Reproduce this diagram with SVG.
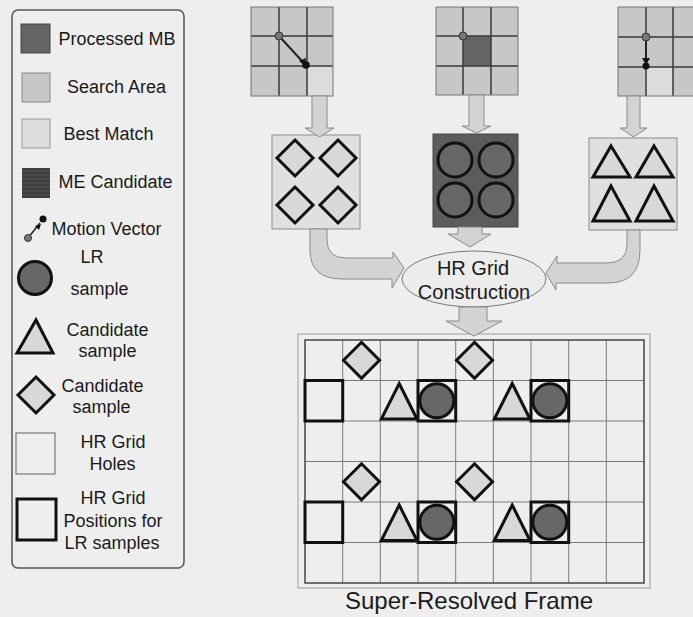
<svg xmlns="http://www.w3.org/2000/svg" width="693" height="617" viewBox="0 0 693 617">
<defs>
<style>
.t{font-family:"Liberation Sans",Arial,sans-serif;font-size:18px;fill:#1a1a1a;text-anchor:middle}
.tb{font-family:"Liberation Sans",Arial,sans-serif;font-size:20px;fill:#1a1a1a;text-anchor:middle}
.tf{font-family:"Liberation Sans",Arial,sans-serif;font-size:24px;fill:#1a1a1a;text-anchor:middle}
.sa{fill:#c7c7c7}
.bm{fill:#dcdcdc}
.pm{fill:#646464}
.gl{stroke:#3a3a3a;stroke-width:1.5;fill:none}
.gb{stroke:#777;stroke-width:1;fill:none}
.dia{fill:#d8d8d8;stroke:#111;stroke-width:3;stroke-linejoin:miter}
.tri{fill:#d8d8d8;stroke:#111;stroke-width:3;stroke-linejoin:miter}
.lr{fill:#676767;stroke:#111;stroke-width:3}
.hold{fill:none;stroke:#111;stroke-width:3}
.arr{fill:#d3d3d3;stroke:#8a8a8a;stroke-width:1}
.cl{stroke:#7a7a7a;stroke-width:1;fill:none}
</style>
</defs>
<rect width="693" height="617" fill="#eeeeee"/>

<g id="legend">
<rect x="12" y="10" width="172" height="558" rx="6" fill="none" stroke="#555" stroke-width="1.5"/>
<g id="leg-processed">
<rect x="21" y="24" width="29" height="29" class="pm" stroke="#444" stroke-width="1"/>
<text class="t" x="117" y="45">Processed MB</text>
</g>
<g id="leg-search">
<rect x="22" y="73" width="28" height="29" class="sa" stroke="#888" stroke-width="1"/>
<text class="t" x="116.5" y="93">Search Area</text>
</g>
<g id="leg-best">
<rect x="22" y="119" width="28" height="29" class="bm" stroke="#999" stroke-width="1"/>
<text class="t" x="108.5" y="140">Best Match</text>
</g>
<g id="leg-me">
<rect x="22" y="168" width="28" height="30" fill="#3e3e3e"/>
<g stroke="#5a5a5a" stroke-width="0.8">
<line x1="22" y1="171" x2="50" y2="171"/><line x1="22" y1="175" x2="50" y2="175"/><line x1="22" y1="179" x2="50" y2="179"/><line x1="22" y1="183" x2="50" y2="183"/><line x1="22" y1="187" x2="50" y2="187"/><line x1="22" y1="191" x2="50" y2="191"/><line x1="22" y1="195" x2="50" y2="195"/>
</g>
<text class="t" x="115.5" y="188">ME Candidate</text>
</g>
<g id="leg-mv">
<line x1="28" y1="238" x2="40" y2="223" stroke="#222" stroke-width="1.5"/>
<circle cx="28" cy="238" r="3.5" fill="#777" stroke="#333" stroke-width="1"/>
<path d="M35,226 L41,224 L39,230 Z" fill="#111"/>
<circle cx="43" cy="219" r="3.5" fill="#111"/>
<text class="t" x="106.5" y="235">Motion Vector</text>
</g>
<g id="leg-lr">
<circle cx="35" cy="278" r="16.5" class="lr"/>
<text class="t" x="92" y="263">LR</text>
<text class="t" x="99.5" y="295">sample</text>
</g>
<g id="leg-tri">
<polygon points="36,320 53,353 17,353" class="tri"/>
<text class="t" x="107.5" y="336">Candidate</text>
<text class="t" x="107.5" y="357">sample</text>
</g>
<g id="leg-dia">
<polygon points="36,377 54,395 36,413 18,395" class="dia"/>
<text class="t" x="102.5" y="392">Candidate</text>
<text class="t" x="101.5" y="413">sample</text>
</g>
<g id="leg-holes">
<rect x="16" y="433" width="39" height="41" fill="#eeeeee" stroke="#777" stroke-width="1.2"/>
<text class="t" x="113" y="448">HR Grid</text>
<text class="t" x="112.5" y="470">Holes</text>
</g>
<g id="leg-pos">
<rect x="17" y="499" width="39" height="41" class="hold"/>
<text class="t" x="113" y="504">HR Grid</text>
<text class="t" x="113" y="527">Positions for</text>
<text class="t" x="112" y="549">LR samples</text>
</g>
</g>

<g id="search-left">
<rect x="251" y="7" width="82" height="89" class="sa"/>
<rect x="307" y="66" width="26" height="30" class="bm"/>
<path d="M279,7V96M307,7V96M251,36H333M251,66H333" class="gl"/>
<rect x="251" y="7" width="82" height="89" class="gb"/>
<line x1="279" y1="36" x2="302" y2="61" stroke="#222" stroke-width="2"/>
<circle cx="279" cy="36" r="4" fill="#777" stroke="#333" stroke-width="1"/>
<path d="M299,61 L306,58 L305,66 Z" fill="#111"/>
<circle cx="306" cy="65" r="3.8" fill="#111"/>
</g>

<g id="search-center">
<rect x="436" y="7" width="82" height="88" class="sa"/>
<rect x="463" y="36" width="28" height="30" class="pm"/>
<path d="M463,7V95M491,7V95M436,36H518M436,66H518" class="gl"/>
<rect x="436" y="7" width="82" height="88" class="gb"/>
<circle cx="463" cy="36" r="4" fill="#777" stroke="#333" stroke-width="1"/>
</g>

<g id="search-right">
<rect x="618" y="7" width="83" height="89" class="sa"/>
<rect x="646" y="67" width="27" height="29" class="bm"/>
<path d="M646,7V96M673,7V96M618,37H701M618,67H701" class="gl"/>
<rect x="618" y="7" width="83" height="89" class="gb"/>
<line x1="646" y1="37" x2="646" y2="62" stroke="#222" stroke-width="2"/>
<circle cx="646" cy="37" r="4" fill="#777" stroke="#333" stroke-width="1"/>
<path d="M642,58 L650,58 L646,65 Z" fill="#111"/>
<circle cx="646" cy="66" r="3.5" fill="#111"/>
</g>

<g id="box-diamonds">
<rect x="272" y="135" width="88" height="94" fill="#e0e0e0" stroke="#8a8a8a" stroke-width="1"/>
<polygon points="295,140 313,158 295,176 277,158" class="dia"/>
<polygon points="338,140 356,158 338,176 320,158" class="dia"/>
<polygon points="295,187 313,205 295,223 277,205" class="dia"/>
<polygon points="338,187 356,205 338,223 320,205" class="dia"/>
</g>

<g id="box-circles">
<rect x="433" y="134" width="85" height="93" fill="#5c5c5c" stroke="#444" stroke-width="1"/>
<circle cx="455" cy="160" r="17" class="lr"/>
<circle cx="496" cy="160" r="17" class="lr"/>
<circle cx="455" cy="200" r="17" class="lr"/>
<circle cx="496" cy="200" r="17" class="lr"/>
</g>

<g id="box-triangles">
<rect x="589" y="138" width="88" height="92" fill="#e0e0e0" stroke="#8a8a8a" stroke-width="1"/>
<polygon points="611,146 630,177 593,177" class="tri"/>
<polygon points="654,146 673,177 636,177" class="tri"/>
<polygon points="611,186 630,221 593,221" class="tri"/>
<polygon points="654,186 673,221 636,221" class="tri"/>
</g>

<g id="hr-construction">
<ellipse cx="474" cy="279" rx="72" ry="28" fill="#ececec" stroke="#777" stroke-width="1"/>
<text class="tb" x="473" y="275">HR Grid</text>
<text class="tb" x="474" y="299">Construction</text>
</g>

<g id="super-resolved-frame">
<rect x="298" y="334" width="352" height="254" fill="#efefef" stroke="#999" stroke-width="1"/>
<rect x="305" y="340" width="339" height="243" fill="#eeeeee"/>
<path class="cl" d="M342.7,340V583M380.3,340V583M418,340V583M455.7,340V583M493.3,340V583M531,340V583M568.7,340V583M606.3,340V583M305,380.5H644M305,421H644M305,461.5H644M305,502H644M305,542.5H644"/>
<rect x="305" y="340" width="339" height="243" fill="none" stroke="#444" stroke-width="1.5"/>
<polygon points="361.5,342.3 379.5,360.3 361.5,378.3 343.5,360.3" class="dia"/>
<polygon points="474.5,342.3 492.5,360.3 474.5,378.3 456.5,360.3" class="dia"/>
<polygon points="361.5,463.8 379.5,481.8 361.5,499.8 343.5,481.8" class="dia"/>
<polygon points="474.5,463.8 492.5,481.8 474.5,499.8 456.5,481.8" class="dia"/>
<rect x="305" y="380.5" width="37.7" height="40.5" class="hold"/>
<rect x="418" y="380.5" width="37.7" height="40.5" class="hold"/>
<rect x="531" y="380.5" width="37.7" height="40.5" class="hold"/>
<rect x="305" y="502" width="37.7" height="40.5" class="hold"/>
<rect x="418" y="502" width="37.7" height="40.5" class="hold"/>
<rect x="531" y="502" width="37.7" height="40.5" class="hold"/>
<polygon points="399.2,383.5 417,419 381.3,419" class="tri"/>
<polygon points="512.2,383.5 530,419 494.3,419" class="tri"/>
<polygon points="399.2,505 417,540.5 381.3,540.5" class="tri"/>
<polygon points="512.2,505 530,540.5 494.3,540.5" class="tri"/>
<circle cx="436.8" cy="400.8" r="17" class="lr"/>
<circle cx="549.8" cy="400.8" r="17" class="lr"/>
<circle cx="436.8" cy="522.3" r="17" class="lr"/>
<circle cx="549.8" cy="522.3" r="17" class="lr"/>
<text class="tf" x="469" y="609">Super-Resolved Frame</text>
</g>

<g id="connectors">
<path class="arr" d="M312,96 L327,96 L327,128 L334,128 L319.5,137 L305,128 L312,128 Z"/>
<path class="arr" d="M469,95 L484,95 L484,126 L491,126 L476.5,133 L462,126 L469,126 Z"/>
<path class="arr" d="M627,96 L640,96 L640,128 L647,128 L633.5,137 L620,128 L627,128 Z"/>
<path class="arr" d="M458,227 L482,227 L482,234 L491,234 L470,247 L448,234 L458,234 Z"/>
<path class="arr" d="M310,229 L310,250 Q310,279 342,279 L392,279 L392,288 L404,268 L393,252 L393,258 L346,258 Q327,258 327,240 L327,229 Z"/>
<path class="arr" d="M640,230 L640,250 Q640,283 608,283 L556,283 L556,290 L546,273 L557,256 L557,263 L606,263 Q627,263 627,245 L627,230 Z"/>
<path class="arr" d="M459,307 L487,307 L487,321 L502,321 L474,336 L446,321 L459,321 Z"/>
</g>
</svg>
